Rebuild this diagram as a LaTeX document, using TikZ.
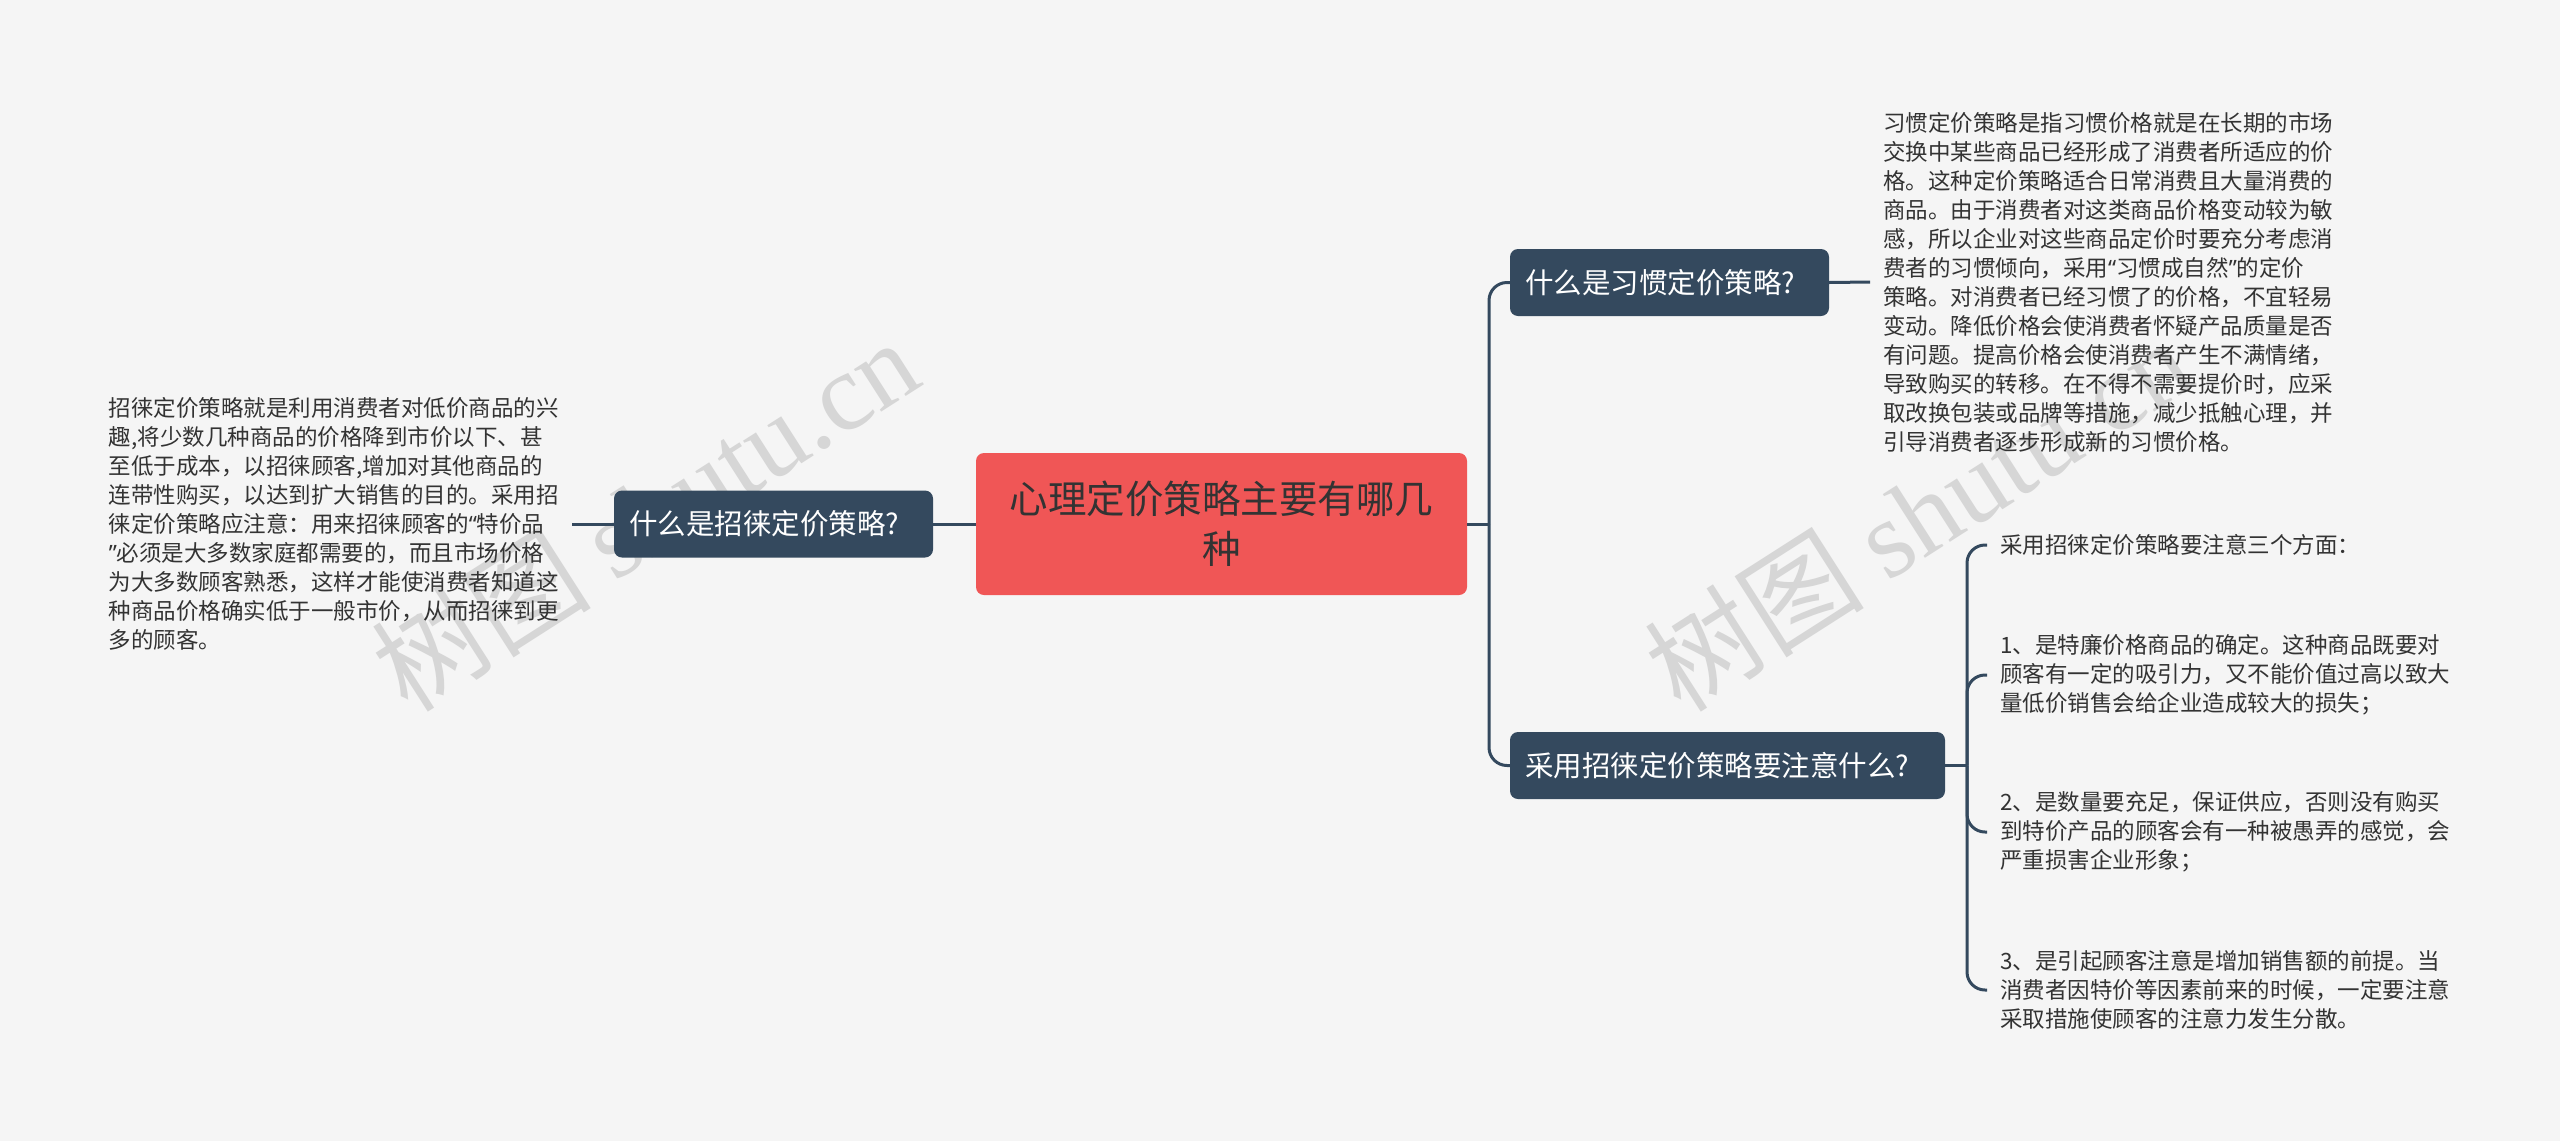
\documentclass[tikz,border=0pt]{standalone}
\usepackage{fontspec}
\setmainfont{Noto Sans CJK SC}
\newfontfamily\wmserif{Liberation Serif}
\newfontfamily\latq{Noto Sans}
\newcommand{\oq}{{\latq “}}
\newcommand{\cq}{{\latq ”}}
\definecolor{bg}{HTML}{F5F5F5}
\definecolor{rootred}{HTML}{F05656}
\definecolor{navy}{HTML}{34495E}
\definecolor{txt}{HTML}{333333}
\definecolor{wm}{HTML}{D6D6D6}
\tikzset{
  rootbox/.style={fill=rootred, rounded corners=8pt, minimum width=491pt, minimum height=142pt, align=center, text=txt, inner sep=0pt, font=\fontsize{38.5}{50}\selectfont},
  l1box/.style={fill=navy, rounded corners=8pt, minimum height=67pt, inner xsep=15pt, inner ysep=0pt, text=white, align=left, font=\fontsize{28.5}{34}\selectfont},
  leaf/.style={text=txt, align=left, inner xsep=13pt, inner ysep=0pt, font=\fontsize{22.5}{29}\selectfont},
  conn/.style={draw=navy, line width=3pt},
  wmark/.style={text=wm, rotate=32.6, font=\fontsize{110}{110}\selectfont},
}
\begin{document}
\begin{tikzpicture}[x=1pt,y=-1pt]
\useasboundingbox (0,0) rectangle (2560,1141);
\fill[bg] (0,0) rectangle (2560,1141);
% watermarks
\node[wmark] (wm1) at (645,514) {树图 {\wmserif shutu.cn}};
\node[wmark] (wm2) at (1918,514) {树图 {\wmserif shutu.cn}};
% nodes
\node[rootbox] (root) at (1221.5,524) {心理定价策略主要有哪几\\种};
\node[l1box, text width=289pt] (qL) at (773.5,524) {什么是招徕定价策略?};
\node[l1box, text width=289pt] (qT) at (1669.5,282.5) {什么是习惯定价策略?};
\node[l1box, text width=405pt] (qB) at (1727.5,765.5) {采用招徕定价策略要注意什么?};
\node[leaf, anchor=east] (lL) at (572,524) {招徕定价策略就是利用消费者对低价商品的兴\\趣,将少数几种商品的价格降到市价以下、甚\\至低于成本，以招徕顾客,增加对其他商品的\\连带性购买，以达到扩大销售的目的。采用招\\徕定价策略应注意：用来招徕顾客的\oq 特价品\\\cq 必须是大多数家庭都需要的，而且市场价格\\为大多数顾客熟悉，这样才能使消费者知道这\\种商品价格确实低于一般市价，从而招徕到更\\多的顾客。};
\node[leaf, anchor=west] (lT) at (1870,282) {习惯定价策略是指习惯价格就是在长期的市场\\交换中某些商品已经形成了消费者所适应的价\\格。这种定价策略适合日常消费且大量消费的\\商品。由于消费者对这类商品价格变动较为敏\\感，所以企业对这些商品定价时要充分考虑消\\费者的习惯倾向，采用\oq 习惯成自然\cq 的定价\\策略。对消费者已经习惯了的价格，不宜轻易\\变动。降低价格会使消费者怀疑产品质量是否\\有问题。提高价格会使消费者产生不满情绪，\\导致购买的转移。在不得不需要提价时，应采\\取改换包装或品牌等措施，减少抵触心理，并\\引导消费者逐步形成新的习惯价格。};
\node[leaf, anchor=west] (b0) at (1987,545) {采用招徕定价策略要注意三个方面：};
\node[leaf, anchor=west] (b1) at (1987,675) {1、是特廉价格商品的确定。这种商品既要对\\顾客有一定的吸引力，又不能价值过高以致大\\量低价销售会给企业造成较大的损失；};
\node[leaf, anchor=west] (b2) at (1987,832) {2、是数量要充足，保证供应，否则没有购买\\到特价产品的顾客会有一种被愚弄的感觉，会\\严重损害企业形象；};
\node[leaf, anchor=west] (b3) at (1987,990) {3、是引起顾客注意是增加销售额的前提。当\\消费者因特价等因素前来的时候，一定要注意\\采取措施使顾客的注意力发生分散。};
% junctions
\coordinate (j1) at (1489,524);
\coordinate (j2) at (1967,765.5);
% connectors
\draw[conn] (root.west) -- (qL.east);
\draw[conn] (qL.west) -- (lL.east);
\draw[conn] (root.east) -- (j1);
\draw[conn, rounded corners=18pt] (j1) |- (qT.west);
\draw[conn, rounded corners=18pt] (j1) |- (qB.west);
\draw[conn] (qT.east) -- (lT.west);
\draw[conn] (qB.east) -- (j2);
\draw[conn, rounded corners=18pt] (j2) |- (b0.west);
\draw[conn, rounded corners=18pt] (j2) |- (b1.west);
\draw[conn, rounded corners=18pt] (j2) |- (b2.west);
\draw[conn, rounded corners=18pt] (j2) |- (b3.west);
\end{tikzpicture}
\end{document}
